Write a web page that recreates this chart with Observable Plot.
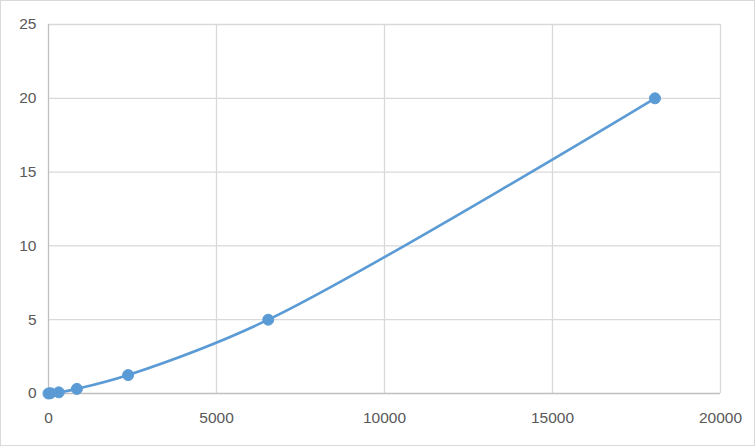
<!DOCTYPE html>
<html>
<head>
<meta charset="utf-8">
<script src="https://cdn.jsdelivr.net/npm/d3@7"></script>
<script src="https://cdn.jsdelivr.net/npm/@observablehq/plot@0.6"></script>
<style>
  html, body { margin: 0; padding: 0; background: #fff; }
  #wrap { position: relative; width: 755px; height: 446px; }
  #border { position: absolute; left: 0; top: 0; width: 755px; height: 446px; box-sizing: border-box; border: 1px solid #d9d9d9; pointer-events: none; }
</style>
</head>
<body>
<div id="wrap"><div id="border"></div></div>
<script>
const xValues = [0, 60, 305, 845, 2370, 6540, 18050];
const yValues = [0, 0.0195, 0.078, 0.3125, 1.25, 5, 20];
const xTicks = [0, 5000, 10000, 15000, 20000];
const yTicks = [0, 5, 10, 15, 20, 25];

const data = xValues.map((x, i) => ({x, y: yValues[i]}));

const chart = Plot.plot({
  width: 755,
  height: 446,
  marginLeft: 48,
  marginRight: 35,
  marginTop: 24,
  marginBottom: 53,
  style: {fontFamily: "'Liberation Sans', Arial, sans-serif", fontSize: "15.5px", color: "#595959", background: "#fff"},
  x: {domain: [0, 20000]},
  y: {domain: [0, 25]},
  marks: [
    Plot.ruleY(yTicks.filter(d => d > 0), {stroke: "#d9d9d9", strokeWidth: 1.3, strokeOpacity: 1}),
    Plot.ruleX(xTicks.filter(d => d > 0), {stroke: "#d9d9d9", strokeWidth: 1.3, strokeOpacity: 1}),
    Plot.ruleY([0], {stroke: "#bfbfbf", strokeWidth: 1.3}),
    Plot.ruleX([0], {stroke: "#bfbfbf", strokeWidth: 1.3}),
    Plot.axisX({ticks: xTicks, tickSize: 0, tickPadding: 18, tickFormat: d => String(d), label: null, fill: "#595959"}),
    Plot.axisY({ticks: yTicks, tickSize: 0, tickPadding: 12, tickFormat: d => String(d), label: null, fill: "#595959"}),
    Plot.line(data, {x: "x", y: "y", stroke: "#5b9bd5", strokeWidth: 2.6, curve: "catmull-rom"}),
    Plot.dot(data, {x: "x", y: "y", r: 5.5, fill: "#5b9bd5", stroke: "#5b9bd5", strokeWidth: 1})
  ]
});
document.getElementById("wrap").insertBefore(chart, document.getElementById("border"));
</script>
</body>
</html>
